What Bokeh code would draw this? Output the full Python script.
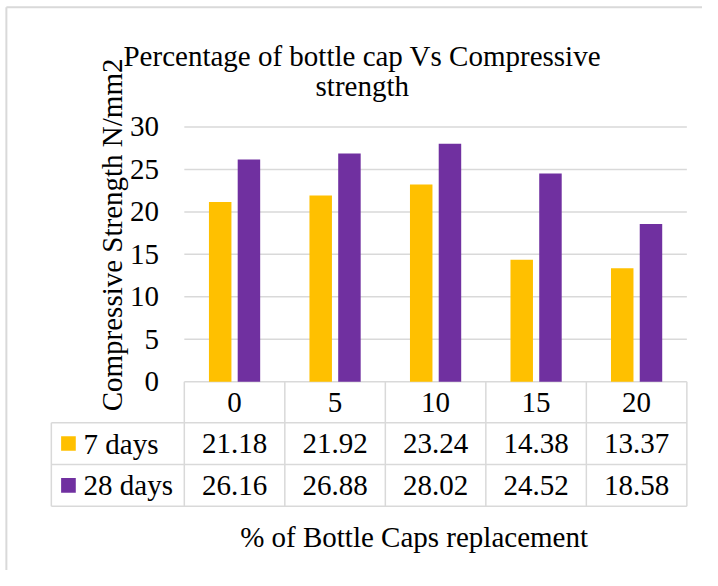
import math
from bokeh.plotting import figure
from bokeh.models import Range1d
from bokeh.core.properties import value
from bokeh.embed import file_html
from bokeh.resources import INLINE

# ---- data ----
categories = ["0", "5", "10", "15", "20"]
series_names = ["7 days", "28 days"]
days7 = [21.18, 21.92, 23.24, 14.38, 13.37]
days28 = [26.16, 26.88, 28.02, 24.52, 18.58]
y_ticks = [0, 5, 10, 15, 20, 25, 30]
title_lines = ["Percentage of bottle cap Vs Compressive", "strength"]
y_title = "Compressive Strength N/mm2"
x_title = "% of Bottle Caps replacement"
colors = ["#FFC000", "#7030A0"]

# ---- layout: reference-picture coordinates scaled into the figure ----
W, H = 702, 570
REF_W, REF_H = 718, 586
SX, SY = W / REF_W, H / REF_H
def X(px):
    return px * SX
def Y(py):
    return H - py * SY

PLOT_L, PLOT_R = 188, 702
PLOT_T, PLOT_B = 130, 392
COL_W = (PLOT_R - PLOT_L) / len(categories)
PX_PER_UNIT = (PLOT_B - PLOT_T) / max(y_ticks)
ROW_LINES = [434, 477, 520]
TABLE_L = 52
FONT = value("Liberation Serif")
FS = "29px"
TXT = "#000000"
GRID = "#d9d9d9"

p = figure(width=W, height=H, x_range=Range1d(0, W), y_range=Range1d(0, H),
           output_backend="svg", toolbar_location=None, min_border=0,
           x_axis_location=None, y_axis_location=None)
p.grid.visible = False
p.outline_line_color = None
p.background_fill_color = "white"
p.border_fill_color = "white"
p.extra_x_ranges = {"cat": Range1d((0 - PLOT_L) / COL_W, (REF_W - PLOT_L) / COL_W)}
p.extra_y_ranges = {"val": Range1d((PLOT_B - REF_H) / PX_PER_UNIT, PLOT_B / PX_PER_UNIT)}

# outer chart border (left and top visible)
p.segment(x0=[X(6), X(6)], y0=[0, Y(7)], x1=[X(6), W], y1=[Y(7), Y(7)],
          line_color=GRID, line_width=2)

# gridlines
n = len(categories)
p.segment(x0=[0] * len(y_ticks), x1=[n] * len(y_ticks), y0=y_ticks, y1=y_ticks,
          x_range_name="cat", y_range_name="val", line_color=GRID, line_width=1.5)

# bars
off = 14.7 / COL_W
bw = 23 / COL_W
xs = [i + 0.5 for i in range(n)]
p.vbar(x=[x - off for x in xs], top=days7, bottom=0, width=bw, fill_color=colors[0], line_color=None,
       x_range_name="cat", y_range_name="val")
p.vbar(x=[x + off for x in xs], top=days28, bottom=0, width=bw, fill_color=colors[1], line_color=None,
       x_range_name="cat", y_range_name="val")

# y tick labels
p.text(x=[X(162)] * len(y_ticks), y=y_ticks, text=[str(t) for t in y_ticks], y_range_name="val",
       text_font=FONT, text_font_size=FS, text_color=TXT, text_align="right", text_baseline="middle")

# data table lines
p.segment(x0=list(range(n + 1)), x1=list(range(n + 1)), y0=[Y(PLOT_B)] * (n + 1), y1=[Y(ROW_LINES[-1])] * (n + 1),
          x_range_name="cat", line_color=GRID, line_width=1.5)
p.segment(x0=[X(TABLE_L)] * len(ROW_LINES), x1=[X(PLOT_R)] * len(ROW_LINES),
          y0=[Y(r) for r in ROW_LINES], y1=[Y(r) for r in ROW_LINES], line_color=GRID, line_width=1.5)
p.segment(x0=[X(TABLE_L)], x1=[X(TABLE_L)], y0=[Y(ROW_LINES[0])], y1=[Y(ROW_LINES[-1])],
          line_color=GRID, line_width=1.5)

# header row (category labels)
p.text(x=xs, y=[Y((PLOT_B + ROW_LINES[0]) / 2)] * n, text=categories, x_range_name="cat",
       text_font=FONT, text_font_size=FS, text_color=TXT, text_align="center", text_baseline="middle")

# series rows
for k, (name, vals) in enumerate(zip(series_names, [days7, days28])):
    yc = Y((ROW_LINES[k] + ROW_LINES[k + 1]) / 2)
    p.text(x=xs, y=[yc] * n, text=[f"{v:.2f}" for v in vals], x_range_name="cat",
           text_font=FONT, text_font_size=FS, text_color=TXT, text_align="center", text_baseline="middle")
    p.rect(x=[X(69.5)], y=[yc], width=15 * SX, height=15 * SY, fill_color=colors[k], line_color=None)
    p.text(x=[X(85)], y=[yc], text=[name], text_font=FONT, text_font_size=FS, text_color=TXT,
           text_align="left", text_baseline="middle")

# title
p.text(x=[X(370)] * 2, y=[Y(57), Y(88)], text=title_lines, text_font=FONT, text_font_size=FS,
       text_color=TXT, text_align="center", text_baseline="alphabetic")

# axis titles
p.text(x=[X(114)], y=[Y(241)], text=[y_title], angle=math.pi / 2, text_font=FONT, text_font_size=FS,
       text_color=TXT, text_align="center", text_baseline="alphabetic")
p.text(x=[X(423)], y=[Y(552)], text=[x_title], text_font=FONT, text_font_size=FS,
       text_color=TXT, text_align="center", text_baseline="middle")

open("out.html", "w").write(file_html(p, INLINE))
